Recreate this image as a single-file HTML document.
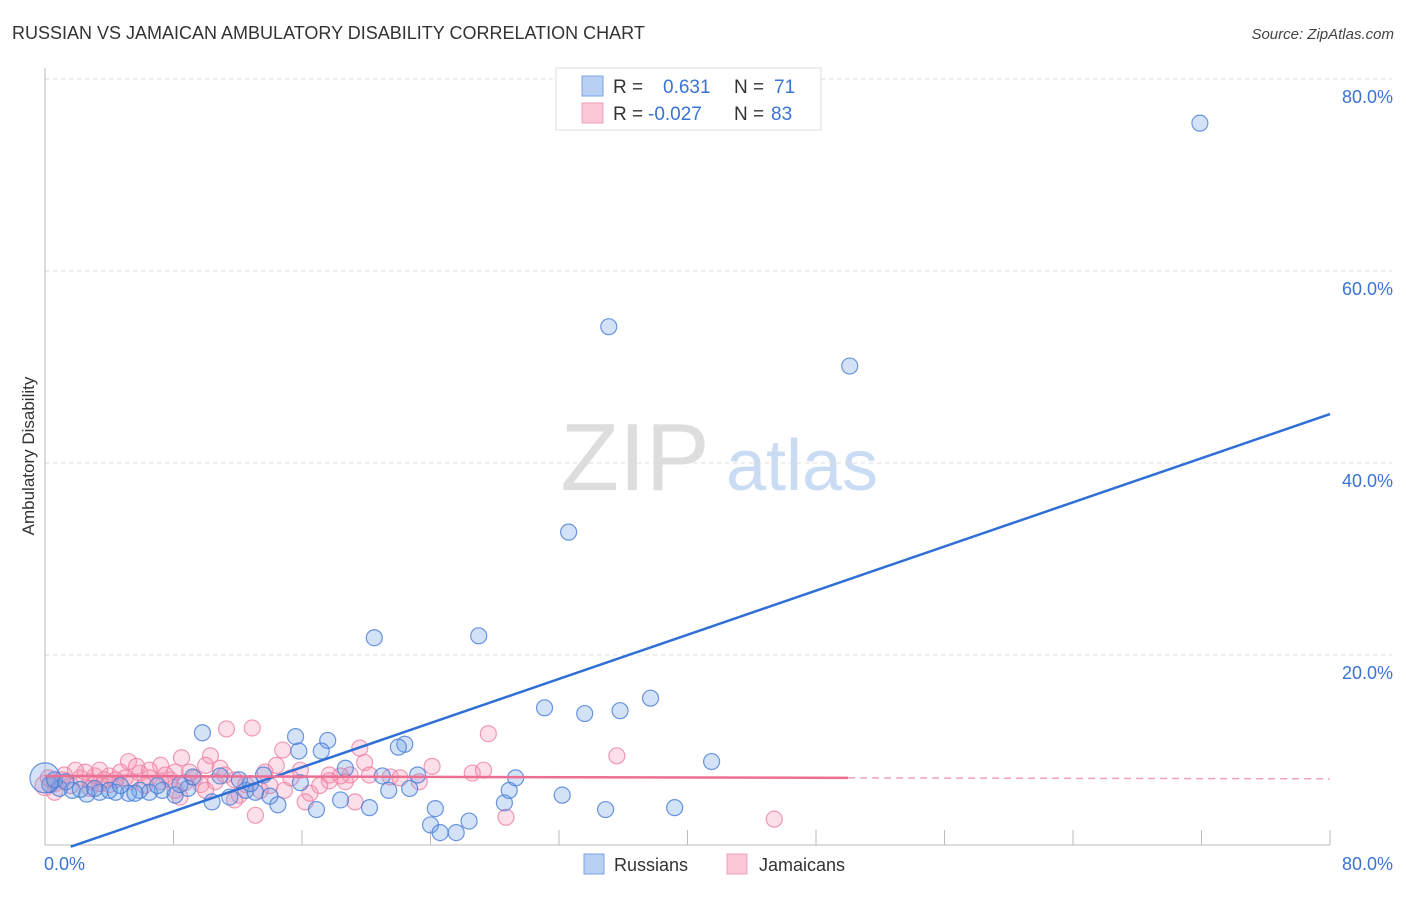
<!DOCTYPE html>
<html><head><meta charset="utf-8"><style>
body{margin:0;background:#fff;font-family:"Liberation Sans",sans-serif;}
svg text{font-family:"Liberation Sans",sans-serif;}
</style></head><body>
<svg id="chart" width="1406" height="892" xmlns="http://www.w3.org/2000/svg">
<text x="12" y="39" font-size="18" fill="#333">RUSSIAN VS JAMAICAN AMBULATORY DISABILITY CORRELATION CHART</text>
<text x="1394" y="39" font-size="15" fill="#444" font-style="italic" text-anchor="end">Source: ZipAtlas.com</text>
<g>
<text x="635" y="490" font-size="96" fill="#ddd" text-anchor="middle" font-family="Liberation Serif,serif">ZIP</text>
<text x="802" y="490" font-size="72" fill="#c9dcf3" text-anchor="middle">atlas</text>
</g>
<g id="grid"></g>
<g id="axes"></g>
<text transform="translate(34,456) rotate(-90)" font-size="17" fill="#333" text-anchor="middle">Ambulatory Disability</text>
<g id="pts"></g>
<g id="lines"></g>
<g>
<rect x="556" y="68" width="265" height="62" fill="#fff" stroke="#ddd"/>
<rect x="582" y="76" width="21" height="20" fill="#b8d0f3" stroke="#7aa3e0"/>
<rect x="582" y="103" width="21" height="20" fill="#fcc8d7" stroke="#f0a0b8"/>
<text x="613" y="93" font-size="19" fill="#333">R =</text>
<text x="663" y="93" font-size="19" fill="#3a74d0">0.631</text>
<text x="734" y="93" font-size="19" fill="#333">N =</text>
<text x="774" y="93" font-size="19" fill="#3a74d0">71</text>
<text x="613" y="120" font-size="19" fill="#333">R =</text>
<text x="648" y="120" font-size="19" fill="#3a74d0">-0.027</text>
<text x="734" y="120" font-size="19" fill="#333">N =</text>
<text x="771" y="120" font-size="19" fill="#3a74d0">83</text>
</g>
<g>
<rect x="584" y="854" width="20" height="20" fill="#b8d0f3" stroke="#7aa3e0"/>
<text x="614" y="871" font-size="18" fill="#333">Russians</text>
<rect x="727" y="854" width="20" height="20" fill="#fcc8d7" stroke="#f0a0b8"/>
<text x="759" y="871" font-size="18" fill="#333">Jamaicans</text>
</g>
</svg>
<script>
const yTicks=[20,40,60,80];
const yTickLabels=["20.0%","40.0%","60.0%","80.0%"];
const xTicks=[0,10,20,30,40,50,60,70,80];
const xTickLabels=["0.0%","80.0%"];
const russiansX=[71.9,35.1,50.1,32.6,20.5,27.0,31.1,33.6,35.8,37.7,41.5,9.8,15.6,17.6,15.8,17.2,22.4,22.0,13.6,14.0,14.5,16.9,18.4,20.2,18.7,21.0,21.4,22.7,23.2,24.3,24.0,24.6,25.6,26.4,28.6,28.9,29.3,32.2,34.9,39.2,10.4,11.5,12.5,13.1,10.9,8.9,7.3,6.5,5.9,5.2,4.4,3.4,2.6,1.7,0.9,0.3,0,0.6,1.3,2.2,4.0,5.6,8.1,9.2,12.1,15.9,7.0,4.7,3.1,12.8,8.4];
const russiansY=[75.4,54.2,50.1,32.8,21.8,22.0,14.5,13.9,14.2,15.5,8.9,11.9,11.5,11.1,10.0,10.0,10.7,10.4,7.5,5.3,4.4,3.9,4.9,4.1,8.2,7.4,5.9,6.1,7.5,4.0,2.3,1.5,1.5,2.7,4.6,5.9,7.2,5.4,3.9,4.1,4.7,5.2,5.9,5.7,7.4,6.1,5.9,5.7,5.9,5.6,5.7,5.7,5.5,5.9,6.1,6.5,7.2,7.0,6.8,6.0,5.9,5.6,5.4,7.3,7.0,6.7,6.4,6.4,6.1,6.6,6.5];
const jamaicansX=[11.3,12.9,27.6,35.6,19.6,14.8,10.3,8.5,5.2,7.2,10.0,10.9,14.4,15.9,17.7,19.0,19.9,21.5,24.1,26.6,27.3,1.2,2.2,3.1,4.0,4.7,5.9,6.5,7.8,8.7,9.3,9.7,10.6,11.8,12.5,13.4,14.0,14.9,16.5,17.7,18.7,19.3,16.2,12.1,8.4,13.1,28.7,45.4,0,0.6,1.6,2.8,3.4,4.4,5.3,6.2,7.2,8.1,9.0,11.2,13.7,15.3,17.1,18.4,20.2,22.1,23.3,6.5,5.7,3.4,2.5,1.1,0.2,1.9,3.7,0.6,11.8,8.1,4.0,7.5,10.0,5.0,2.8];
const jamaicansY=[12.3,12.4,11.8,9.5,10.3,10.1,9.5,9.3,8.9,8.5,8.5,8.2,8.5,8.0,7.5,7.5,8.8,7.3,8.4,7.7,8.0,7.5,7.2,7.4,7.4,7.8,7.7,7.2,7.0,6.7,7.2,6.5,6.8,7.0,6.5,5.9,6.4,5.9,5.6,6.9,6.8,4.7,4.7,5.4,5.2,3.3,3.1,2.9,6.4,6.6,6.4,6.8,6.6,7.0,6.8,6.4,6.8,7.8,7.8,7.5,7.8,7.2,6.4,7.4,7.5,7.2,6.8,8.0,8.4,8.0,7.8,7.0,7.2,8.0,7.0,5.7,4.9,5.9,6.5,7.5,5.9,7.2,6.1];
const russiansTrend=[1.6,0.031,80,45.1];
const jamaicansTrend=[0,7.4,50,7.2,80,7.1];

const NS="http://www.w3.org/2000/svg";
const X0=45,X1=1330,Y0=847,YPER=9.6;
const sx=v=>X0+v*(X1-X0)/80;
const sy=v=>Y0-v*YPER;
function mk(t,a,p){const e=document.createElementNS(NS,t);for(const k in a)e.setAttribute(k,a[k]);p.appendChild(e);return e;}
const grid=document.getElementById('grid'),axes=document.getElementById('axes');
yTicks.forEach((t,i)=>{
 const l=mk('line',{x1:X0,x2:1392,y1:sy(t),y2:sy(t),stroke:'#ddd','stroke-dasharray':'4,4'},grid);
 
 
 const tx=mk('text',{x:1393,y:sy(t)+24,'font-size':18,fill:'#3a74d0','text-anchor':'end'},axes);
 tx.textContent=yTickLabels[i];
 
 
});
mk('line',{x1:X0,x2:X0,y1:68,y2:845,stroke:'#bbb'},axes);
mk('line',{x1:X0,x2:X1,y1:845,y2:845,stroke:'#bbb'},axes);
for(let v=0;v<=80;v+=8){const t=mk('line',{x1:sx(v),x2:sx(v),y1:830,y2:845,stroke:'#bbb'},axes);
 
 }
const xl0=mk('text',{x:44,y:870,'font-size':18,fill:'#3a74d0'},axes);xl0.textContent=xTickLabels[0];


const xl1=mk('text',{x:1393,y:870,'font-size':18,fill:'#3a74d0','text-anchor':'end'},axes);xl1.textContent=xTickLabels[1];


const pts=document.getElementById('pts');
jamaicansX.forEach((x,i)=>{const c=mk('circle',{cx:sx(x),cy:sy(jamaicansY[i]),r:x===0?10:8,fill:'rgba(244,150,180,0.3)',stroke:'rgba(236,130,165,0.8)','stroke-width':1.2},pts);
 
 });
russiansX.forEach((x,i)=>{const c=mk('circle',{cx:sx(x),cy:sy(russiansY[i]),r:x===0?15:8,fill:'rgba(110,160,230,0.3)',stroke:'rgba(70,125,215,0.8)','stroke-width':1.2},pts);
 
 });
const ln=document.getElementById('lines');
const bl=mk('line',{x1:sx(russiansTrend[0]),y1:sy(russiansTrend[1]),x2:sx(russiansTrend[2]),y2:sy(russiansTrend[3]),stroke:'#2f6fd6','stroke-width':2.5},ln);


const pl=mk('line',{x1:sx(jamaicansTrend[0]),y1:sy(jamaicansTrend[1]),x2:sx(jamaicansTrend[2]),y2:sy(jamaicansTrend[3]),stroke:'#ec6e93','stroke-width':2.5},ln);


const pd=mk('line',{x1:sx(jamaicansTrend[2]),y1:sy(jamaicansTrend[3]),x2:sx(jamaicansTrend[4]),y2:sy(jamaicansTrend[5]),stroke:'#f0a0b8','stroke-width':1.5,'stroke-dasharray':'7,5'},ln);


</script>
</body></html>
